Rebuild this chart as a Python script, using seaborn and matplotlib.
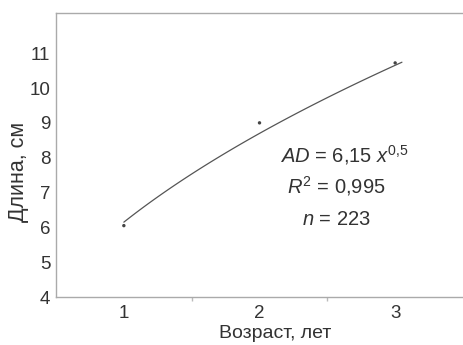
import numpy as np
import matplotlib
matplotlib.use("Agg")
import matplotlib.pyplot as plt
import seaborn as sns

# Data
age = [1, 2, 3]
length = [6.05, 9.0, 10.72]
coef_a = 6.15
coef_b = 0.5
yticks = [4, 5, 6, 7, 8, 9, 10, 11]
xticks = [1, 2, 3]

sns.set_theme(style="white")
plt.rcParams['font.family'] = ['Liberation Sans', 'DejaVu Sans']
plt.rcParams['mathtext.fontset'] = 'custom'
plt.rcParams['mathtext.rm'] = 'Liberation Sans'
plt.rcParams['mathtext.it'] = 'Liberation Sans:italic'
plt.rcParams['mathtext.bf'] = 'Liberation Sans:bold'

fig = plt.figure(figsize=(4.63, 3.45), dpi=100)
ax = fig.add_axes([0.121, 0.139, 0.879, 0.823])

xs = np.linspace(1, 3.05, 100)
sns.lineplot(x=xs, y=coef_a * xs ** coef_b, ax=ax, color="#555555", linewidth=0.9)
sns.scatterplot(x=age, y=length, ax=ax, color="#444444", s=6, edgecolor="none")

ax.set_xlim(0.5, 3.5)
ax.set_ylim(4, 12.15)
ax.set_xticks(xticks)
ax.set_xticks([1.5, 2.5], minor=True)
ax.set_yticks(yticks)
ax.tick_params(axis="both", which="major", labelsize=13.5, length=0, colors="#333333")
ax.tick_params(axis="y", which="major", pad=4)
ax.tick_params(axis="x", which="major", pad=6)
ax.tick_params(axis="x", which="minor", length=3, color="#bbbbbb", direction="out", bottom=True)
ax.set_xlabel("Возраст, лет", fontsize=14, color="#333333", va="center")
ax.set_ylabel("Длина, см", fontsize=15.5, color="#333333", va="center")
ax.xaxis.set_label_coords(0.538, -0.127)
ax.yaxis.set_label_coords(-0.093, 0.44)

for side in ["left", "bottom", "top"]:
    ax.spines[side].set_color("#aaaaaa")
    ax.spines[side].set_linewidth(1.0)
ax.spines["right"].set_visible(False)

ax.text(0.708, 0.475, r"$AD$ = 6,15 $x^{0{,}5}$", transform=ax.transAxes,
        ha="center", va="baseline", fontsize=14.5, color="#333333")
ax.text(0.688, 0.366, r"$R^2$ = 0,995", transform=ax.transAxes,
        ha="center", va="baseline", fontsize=14.5, color="#333333")
ax.text(0.688, 0.254, r"$n$ = 223", transform=ax.transAxes,
        ha="center", va="baseline", fontsize=14.5, color="#333333")

fig.savefig("out.png", dpi=100)
